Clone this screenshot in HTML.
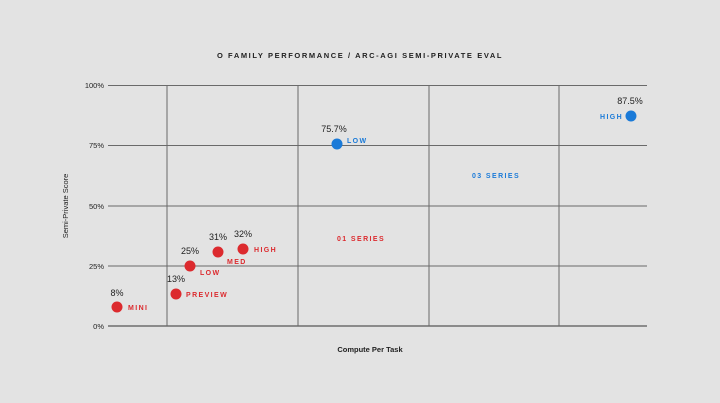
<!DOCTYPE html>
<html><head><style>
body{margin:0;width:720px;height:403px;background:#e3e3e3;overflow:hidden}
svg{display:block}
text{font-family:"Liberation Sans",sans-serif}
</style></head><body>
<svg width="720" height="403" viewBox="0 0 720 403">
<rect width="720" height="403" fill="#e3e3e3"/>
<text x="360" y="58" text-anchor="middle" font-size="7.5" font-weight="bold" letter-spacing="1.6" fill="#222">O FAMILY PERFORMANCE / ARC-AGI SEMI-PRIVATE EVAL</text>
<g stroke="#6a6a6a" stroke-width="1">
<line x1="108" y1="85.5" x2="647" y2="85.5"/>
<line x1="108" y1="145.5" x2="647" y2="145.5"/>
<line x1="108" y1="206" x2="647" y2="206"/>
<line x1="108" y1="266" x2="647" y2="266"/>
<line x1="108" y1="326" x2="647" y2="326" stroke="#333"/>
<line x1="167" y1="85.5" x2="167" y2="326"/>
<line x1="298" y1="85.5" x2="298" y2="326"/>
<line x1="429" y1="85.5" x2="429" y2="326"/>
<line x1="559" y1="85.5" x2="559" y2="326"/>
</g>
<g font-size="7.5" fill="#222" text-anchor="end">
<text x="104" y="88">100%</text><text x="104" y="148">75%</text><text x="104" y="209">50%</text><text x="104" y="269">25%</text><text x="104" y="329">0%</text>
</g>
<text transform="translate(68,206) rotate(-90)" text-anchor="middle" font-size="7.5" fill="#222">Semi-Private Score</text>
<text x="370" y="352" text-anchor="middle" font-size="7.5" font-weight="bold" fill="#222">Compute Per Task</text>
<g fill="#dc2a2e">
<circle cx="117" cy="307" r="5.5"/><circle cx="176" cy="294" r="5.5"/><circle cx="190" cy="266" r="5.5"/><circle cx="218" cy="252" r="5.5"/><circle cx="243" cy="249" r="5.5"/>
</g>
<g fill="#1a7ad8"><circle cx="337" cy="144" r="5.5"/><circle cx="631" cy="116" r="5.5"/></g>
<g font-size="9" fill="#222" text-anchor="middle">
<text x="117" y="296">8%</text><text x="176" y="282">13%</text><text x="190" y="254">25%</text><text x="218" y="240">31%</text><text x="243" y="237">32%</text><text x="334" y="132">75.7%</text><text x="630" y="104">87.5%</text>
</g>
<g font-size="7" font-weight="bold" letter-spacing="1.4" fill="#dc2a2e">
<text x="128" y="310">MINI</text><text x="186" y="297">PREVIEW</text><text x="200" y="275">LOW</text><text x="227" y="264">MED</text><text x="254" y="252">HIGH</text>
<text x="337" y="241">01 SERIES</text>
</g>
<g font-size="7" font-weight="bold" letter-spacing="1.4" fill="#1a7ad8">
<text x="347" y="143">LOW</text><text x="600" y="119">HIGH</text><text x="472" y="178">03 SERIES</text>
</g>
</svg>
</body></html>
